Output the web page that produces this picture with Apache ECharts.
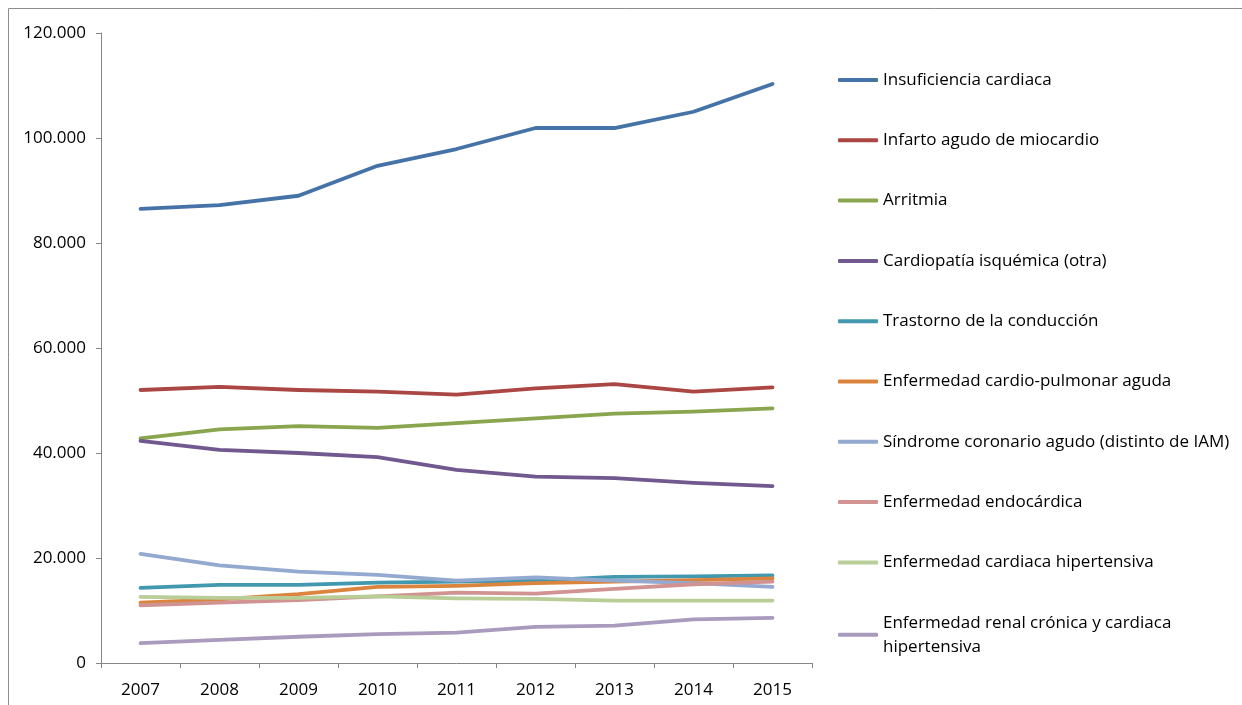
<!DOCTYPE html>
<html>
<head>
<meta charset="utf-8">
<script src="https://cdn.jsdelivr.net/npm/echarts@6/dist/echarts.min.js"></script>
<style>
html,body{margin:0;padding:0;background:#fff;}
#c{width:1242px;height:705px;}
</style>
</head>
<body>
<div id="c"></div>
<script>
const years = ['2007','2008','2009','2010','2011','2012','2013','2014','2015'];
const seriesNames = [
  'Insuficiencia cardiaca',
  'Infarto agudo de miocardio',
  'Arritmia',
  'Cardiopatía isquémica (otra)',
  'Trastorno de la conducción',
  'Enfermedad cardio-pulmonar aguda',
  'Síndrome coronario agudo (distinto de IAM)',
  'Enfermedad endocárdica',
  'Enfermedad cardiaca hipertensiva',
  'Enfermedad renal crónica y cardiaca hipertensiva'
];
const insuficiencia = [86500, 87200, 89000, 94700, 97900, 101900, 101900, 105000, 110300];
const infarto       = [52000, 52600, 52000, 51700, 51100, 52300, 53100, 51700, 52500];
const arritmia      = [42800, 44500, 45100, 44800, 45700, 46600, 47500, 47900, 48500];
const cardiopatia   = [42300, 40600, 40000, 39200, 36800, 35500, 35200, 34300, 33700];
const trastorno     = [14300, 14900, 14900, 15300, 15500, 15700, 16400, 16500, 16700];
const cardioPulm    = [11500, 12100, 13100, 14500, 14700, 15200, 15500, 15800, 16100];
const sindrome      = [20800, 18600, 17400, 16800, 15700, 16300, 15700, 15200, 14500];
const endocardica   = [11000, 11500, 12000, 12700, 13400, 13200, 14100, 15000, 15500];
const hipertensiva  = [12600, 12400, 12400, 12700, 12300, 12200, 11900, 11900, 11900];
const renal         = [3800, 4400, 5000, 5500, 5800, 6900, 7100, 8300, 8600];
const yTicks = [0, 20000, 40000, 60000, 80000, 100000, 120000];

const allData = [insuficiencia, infarto, arritmia, cardiopatia, trastorno, cardioPulm, sindrome, endocardica, hipertensiva, renal];
const colors = ['#4572A7','#AA4643','#89A54E','#71588F','#4198AF','#DB843D','#93A9CF','#D19392','#B9CD96','#A99BBD'];

const fontFamily = '"Open Sans", "Liberation Sans", sans-serif';

function fmt(v){
  return String(v).replace(/\B(?=(\d{3})+(?!\d))/g, '.');
}

const chart = echarts.init(document.getElementById('c'), null, {renderer:'canvas'});
chart.setOption({
  animation: false,
  backgroundColor: '#ffffff',
  color: colors,
  graphic: [{
    type: 'rect',
    shape: {x: 8.5, y: 8.5, width: 1400, height: 900},
    style: {fill: 'none', stroke: '#8c8c8c', lineWidth: 1},
    silent: true,
    z: -1
  }],
  grid: {left: 101, right: 430, top: 33, bottom: 42, containLabel: false},
  legend: {
    orient: 'vertical',
    left: 838,
    top: 70,
    padding: 0,
    itemWidth: 40,
    itemHeight: 4,
    itemGap: 40.3,
    icon: 'roundRect',
    textStyle: {fontFamily: fontFamily, fontSize: 17, color: '#000', lineHeight: 20, height: 20},
    data: seriesNames.map(function(n, i){
      if (i === seriesNames.length - 1) {
        return {name: n, textStyle: {lineHeight: 24, padding: [24, 0, 0, 0], height: null}};
      }
      return {name: n};
    }),
    formatter: function(name){
      if (name === seriesNames[seriesNames.length - 1]) {
        return 'Enfermedad renal crónica y cardiaca\nhipertensiva';
      }
      return name;
    }
  },
  xAxis: {
    type: 'category',
    data: years,
    boundaryGap: true,
    axisLine: {lineStyle: {color: '#868686', width: 1}},
    axisTick: {show: true, length: 5, alignWithLabel: false, lineStyle: {color: '#868686'}},
    axisLabel: {fontFamily: fontFamily, fontSize: 17, color: '#000', margin: 19},
    splitLine: {show: false}
  },
  yAxis: {
    type: 'value',
    min: 0,
    max: 120000,
    interval: 20000,
    axisLine: {show: true, lineStyle: {color: '#868686', width: 1}},
    axisTick: {show: true, length: 5, lineStyle: {color: '#868686'}},
    axisLabel: {fontFamily: fontFamily, fontSize: 17, color: '#000', margin: 15,
      formatter: function(v){ return yTicks.indexOf(v) >= 0 ? fmt(v) : ''; }},
    splitLine: {show: false}
  },
  series: seriesNames.map(function(n, i){
    return {
      name: n,
      type: 'line',
      data: allData[i],
      symbol: 'none',
      smooth: false,
      lineStyle: {width: 3.8, color: colors[i], cap: 'round', join: 'round'},
      itemStyle: {color: colors[i]}
    };
  })
});
</script>
</body>
</html>
